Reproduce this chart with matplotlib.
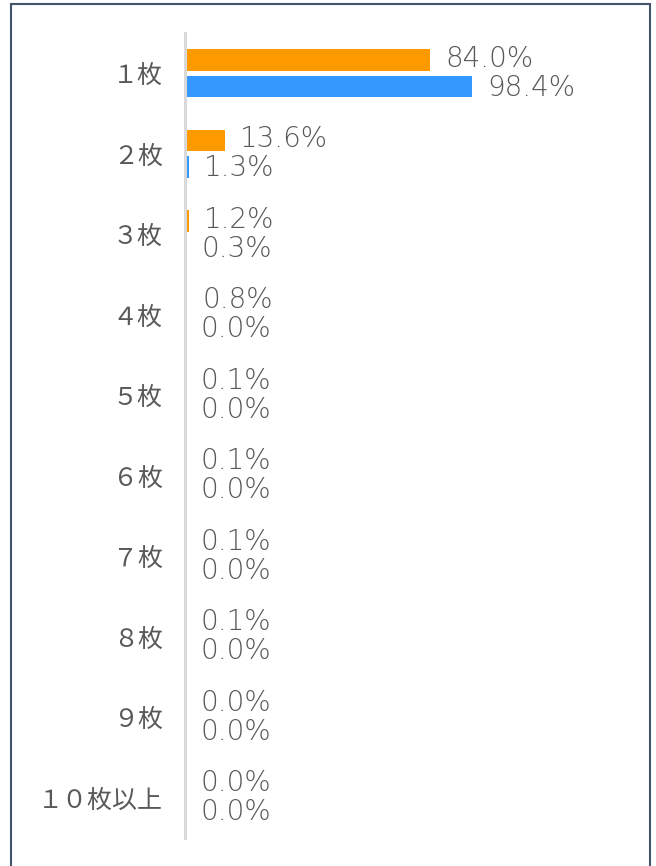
import numpy as np
import matplotlib
matplotlib.use("Agg")
import matplotlib.pyplot as plt
from matplotlib.patches import Rectangle

plt.rcParams['font.family'] = ['Noto Sans CJK JP', 'DejaVu Sans']

categories = ['１枚', '２枚', '３枚', '４枚', '５枚', '６枚', '７枚', '８枚', '９枚', '１０枚以上']
orange_vals = [84.0, 13.6, 1.2, 0.8, 0.1, 0.1, 0.1, 0.1, 0.0, 0.0]
blue_vals = [98.4, 1.3, 0.3, 0.0, 0.0, 0.0, 0.0, 0.0, 0.0, 0.0]

W, H = 656, 866
fig = plt.figure(figsize=(W / 100, H / 100), dpi=100)

# axes: x 185..477 px (0..100%), y 33..838 px
ax = fig.add_axes([185 / W, 1 - 838 / H, 292 / W, 805 / H])

y = np.arange(len(categories))
h = 0.27
off = 0.165
text_col = '#595959'
pct_font = ['DejaVu Sans']

ax.barh(y - off, orange_vals, height=h, color='#FF9900')
ax.barh(y + off, blue_vals, height=h, color='#3399FF')

for i in range(len(categories)):
    ax.annotate(f'{orange_vals[i]:.1f}%', (orange_vals[i], y[i] - off),
                xytext=(11, 1), textcoords='offset points', va='center',
                ha='left', fontsize=20, color=text_col, fontweight='light',
                family=pct_font, annotation_clip=False)
    ax.annotate(f'{blue_vals[i]:.1f}%', (blue_vals[i], y[i] + off),
                xytext=(11, -1), textcoords='offset points', va='center',
                ha='left', fontsize=20, color=text_col, fontweight='light',
                family=pct_font, annotation_clip=False)

ax.set_xlim(0, 100)
ax.set_ylim(len(categories) - 0.5, -0.5)
ax.set_yticks(y)
ax.set_yticklabels(categories, fontsize=18, color=text_col)
ax.tick_params(axis='y', length=0, pad=16)
ax.set_xticks([])
for s in ['top', 'right', 'bottom']:
    ax.spines[s].set_visible(False)
ax.spines['left'].set_color('#D9D9D9')
ax.spines['left'].set_linewidth(2.2)

# outer frame
fig.patches.append(Rectangle((11 / W, -0.1), (650 - 11) / W, 1.1 - 4 / H,
                             transform=fig.transFigure, fill=False,
                             edgecolor='#44546A', linewidth=1.5))

fig.savefig('out.png', dpi=100)
